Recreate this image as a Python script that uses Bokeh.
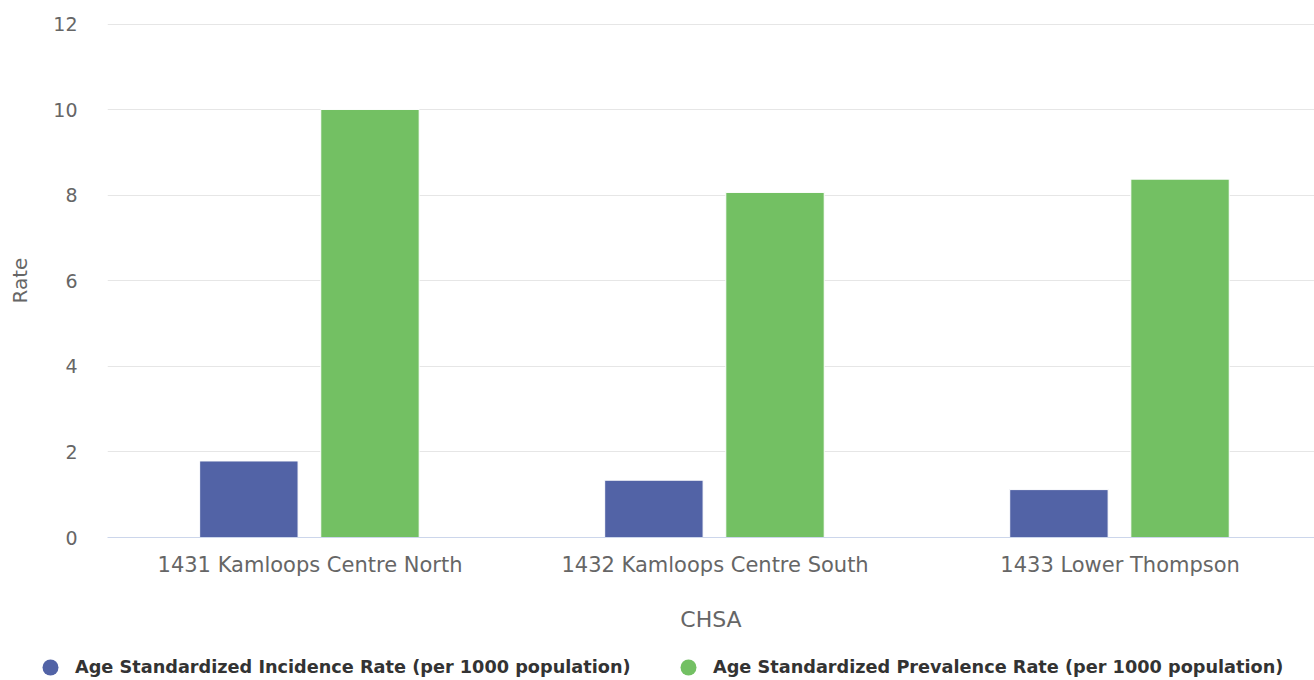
from bokeh.plotting import figure
from bokeh.models import ColumnDataSource, FixedTicker, Legend, LegendItem, Range1d
from bokeh.transform import dodge
from bokeh.embed import file_html
from bokeh.resources import INLINE

categories = ["1431 Kamloops Centre North", "1432 Kamloops Centre South", "1433 Lower Thompson"]
incidence = [1.79, 1.34, 1.12]
prevalence = [10.01, 8.07, 8.38]
series_names = ["Age Standardized Incidence Rate (per 1000 population)",
                "Age Standardized Prevalence Rate (per 1000 population)"]
series_colors = ["#5263a6", "#73c063"]
y_ticks = [0, 2, 4, 6, 8, 10, 12]

FONT = "DejaVu Sans"

# category slots at 0.5, 1.5, 2.5; the visible x range ends a little before the 3rd slot ends
positions = [i + 0.5 for i in range(len(categories))]
source = ColumnDataSource(dict(pos=positions, inc=incidence, prev=prevalence))

p = figure(x_range=Range1d(0, 2.98), y_range=Range1d(0, 12.02),
           width=1314, height=645, output_backend="svg", toolbar_location=None,
           min_border_left=107, min_border_right=0, min_border_top=23, min_border_bottom=108)

p.vbar(x=dodge("pos", -0.151), top="inc", width=0.243, source=source,
       fill_color=series_colors[0], line_color="white", line_width=1)
p.vbar(x=dodge("pos", 0.148), top="prev", width=0.243, source=source,
       fill_color=series_colors[1], line_color="white", line_width=1)

p.outline_line_color = None
p.xgrid.grid_line_color = None
p.ygrid.grid_line_color = "#e6e6e6"
p.ygrid.grid_line_width = 1

p.yaxis.ticker = FixedTicker(ticks=y_ticks)
p.yaxis.axis_line_color = None
p.yaxis.major_tick_line_color = None
p.yaxis.minor_tick_line_color = None
p.yaxis.major_tick_out = 0
p.yaxis.minor_tick_out = 0
p.yaxis.major_label_standoff = 30
p.yaxis.major_label_text_font = FONT
p.yaxis.major_label_text_font_size = "19px"
p.yaxis.major_label_text_color = "#666666"
p.yaxis.axis_label = "Rate"
p.yaxis.axis_label_text_font = FONT
p.yaxis.axis_label_text_font_size = "20px"
p.yaxis.axis_label_text_font_style = "normal"
p.yaxis.axis_label_text_color = "#666666"
p.yaxis.axis_label_standoff = 18

p.xaxis.ticker = FixedTicker(ticks=positions, minor_ticks=[])
p.xaxis.major_label_overrides = {pos: name for pos, name in zip(positions, categories)}
p.xaxis.axis_line_color = "#ccd6eb"
p.xaxis.axis_line_width = 1
p.xaxis.major_tick_line_color = None
p.xaxis.minor_tick_line_color = None
p.xaxis.major_tick_out = 0
p.xaxis.minor_tick_out = 0
p.xaxis.major_label_standoff = 15
p.xaxis.major_label_text_font = FONT
p.xaxis.major_label_text_font_size = "21px"
p.xaxis.major_label_text_color = "#666666"
p.xaxis.axis_label = "CHSA"
p.xaxis.axis_label_text_font = FONT
p.xaxis.axis_label_text_font_size = "22px"
p.xaxis.axis_label_text_font_style = "normal"
p.xaxis.axis_label_text_color = "#666666"
p.xaxis.axis_label_standoff = 27

# legend strip below the chart (separate root so its frame spans the full width)
lp = figure(width=1314, height=35, x_range=Range1d(0, 1), y_range=Range1d(0, 1),
            output_backend="svg", toolbar_location=None,
            x_axis_location=None, y_axis_location=None,
            min_border_left=0, min_border_right=0, min_border_top=0, min_border_bottom=0)
lp.outline_line_color = None
lp.xgrid.grid_line_color = None
lp.ygrid.grid_line_color = None

nan = float("nan")
r1 = lp.scatter(x=[nan], y=[nan], size=16, fill_color=series_colors[0], line_color=None)
r2 = lp.scatter(x=[nan], y=[nan], size=16, fill_color=series_colors[1], line_color=None)

legend = Legend(items=[LegendItem(label=series_names[0], renderers=[r1]),
                       LegendItem(label=series_names[1], renderers=[r2])],
                location=(30, -7), orientation="horizontal",
                glyph_width=40, glyph_height=40, label_standoff=5, spacing=33,
                label_width=560, padding=0, margin=0,
                background_fill_alpha=0, border_line_alpha=0,
                label_text_font=FONT, label_text_font_size="17.7px",
                label_text_font_style="bold", label_text_color="#333333")
lp.add_layout(legend)

open("out.html", "w").write(file_html([p, lp], INLINE))
